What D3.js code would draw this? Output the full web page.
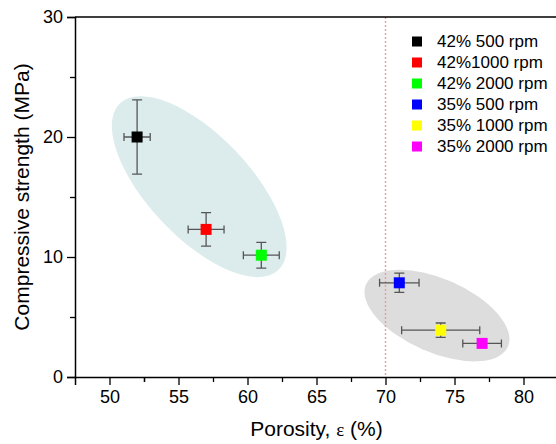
<!DOCTYPE html>
<html>
<head>
<meta charset="utf-8">
<script src="https://cdn.jsdelivr.net/npm/d3@7"></script>
<style>
  html, body { margin: 0; padding: 0; background: #fff; }
  svg { display: block; }
</style>
</head>
<body>
<div id="chart"></div>
<script>
// Compressive strength vs porosity, scatter with error bars

const labels = ['42% 500 rpm', '42%1000 rpm', '42% 2000 rpm', '35% 500 rpm', '35% 1000 rpm', '35% 2000 rpm'];
const colors = ['#000000', '#ff0000', '#00ff00', '#0000ff', '#ffff00', '#ff00ff'];
const porosity = [52.0, 57.0, 61.0, 71.0, 74.0, 77.0];
const porosityErr = [0.95, 1.3, 1.3, 1.43, 2.83, 1.4];
const strength = [20.0, 12.3, 10.15, 7.85, 3.9, 2.8];
const strengthErr = [3.1, 1.4, 1.07, 0.8, 0.6, 0.3];

const xTicks = [50, 55, 60, 65, 70, 75, 80];
const yTicks = [0, 10, 20, 30];
const thresholdX = 70;

// shaded groups: centre in data units
const groupCentres = [[56.5, 15.86], [73.73, 5.12]];

const W = 556, H = 444;
const margin = { left: 75, top: 17 };
const plotRight = 558, plotBottom = 377;

const svg = d3.select('#chart').append('svg')
  .attr('width', W)
  .attr('height', H)
  .attr('viewBox', [0, 0, W, H]);

const x = d3.scaleLinear().domain([47.5, 82.5]).range([margin.left, plotRight]);
const y = d3.scaleLinear().domain([0, 30]).range([plotBottom, margin.top]);

const font = 'Liberation Sans, Arial, sans-serif';

// group ellipses
const ellipseStyle = [
  { rx: 115, ry: 51, angle: 46.5, fill: '#dcecec' },
  { rx: 77.5, ry: 36.8, angle: 23.6, fill: '#dddddd' }
];
svg.append('g').selectAll('ellipse')
  .data(groupCentres)
  .enter().append('ellipse')
  .attr('transform', (d, i) => `translate(${x(d[0])},${y(d[1])}) rotate(${ellipseStyle[i].angle})`)
  .attr('rx', (d, i) => ellipseStyle[i].rx)
  .attr('ry', (d, i) => ellipseStyle[i].ry)
  .attr('fill', (d, i) => ellipseStyle[i].fill);

// dashed threshold
svg.append('line')
  .attr('x1', x(thresholdX)).attr('x2', x(thresholdX))
  .attr('y1', y(30)).attr('y2', y(0))
  .attr('stroke', '#f29a9a')
  .attr('stroke-width', 1.4)
  .attr('stroke-dasharray', '2,2');

// axes
const xAxis = svg.append('g')
  .attr('transform', `translate(0,${plotBottom})`)
  .call(d3.axisBottom(x).tickValues(xTicks).tickSize(8).tickPadding(5).tickFormat(d3.format('d')));
const xMinor = svg.append('g')
  .attr('transform', `translate(0,${plotBottom})`)
  .call(d3.axisBottom(x).tickValues(xTicks.map(t => t + 2.5).concat([47.5 + 5])).tickSize(5).tickFormat(''));
const yAxis = svg.append('g')
  .attr('transform', `translate(${margin.left},0)`)
  .call(d3.axisLeft(y).tickValues(yTicks).tickSize(8).tickPadding(4));
const yMinor = svg.append('g')
  .attr('transform', `translate(${margin.left},0)`)
  .call(d3.axisLeft(y).tickValues([5, 15, 25]).tickSize(5).tickFormat(''));

[xAxis, xMinor, yAxis, yMinor].forEach(g => {
  g.select('.domain').attr('stroke', '#000').attr('stroke-width', 1.5);
  g.selectAll('.tick line').attr('stroke', '#000').attr('stroke-width', 1.3);
  g.selectAll('.tick text')
    .attr('font-family', font)
    .attr('font-size', 18)
    .attr('fill', '#000');
});
xMinor.select('.domain').remove();
yMinor.select('.domain').remove();

// top & right frame
svg.append('path')
  .attr('d', `M${margin.left},${margin.top}H${plotRight}V${plotBottom}`)
  .attr('fill', 'none')
  .attr('stroke', '#000')
  .attr('stroke-width', 1.5);

// error bars
const errColor = '#555';
const capV = 5, capH = 4;
const bars = svg.append('g').attr('stroke', errColor).attr('stroke-width', 1.3);
porosity.forEach((px, i) => {
  const cx = x(px), cy = y(strength[i]);
  const y0 = y(strength[i] - strengthErr[i]), y1 = y(strength[i] + strengthErr[i]);
  const x0 = x(px - porosityErr[i]), x1 = x(px + porosityErr[i]);
  bars.append('path')
    .attr('fill', 'none')
    .attr('d', `M${cx},${y0}V${y1}M${cx - capV},${y0}H${cx + capV}M${cx - capV},${y1}H${cx + capV}` +
      `M${x0},${cy}H${x1}M${x0},${cy - capH}V${cy + capH}M${x1},${cy - capH}V${cy + capH}`);
});

// markers
const ms = 11;
svg.append('g').selectAll('rect')
  .data(porosity)
  .enter().append('rect')
  .attr('x', d => x(d) - ms / 2)
  .attr('y', (d, i) => y(strength[i]) - ms / 2)
  .attr('width', ms)
  .attr('height', ms)
  .attr('fill', (d, i) => colors[i]);

// legend
const legend = svg.append('g').attr('transform', 'translate(412,41.5)');
labels.forEach((lab, i) => {
  const row = legend.append('g').attr('transform', `translate(0,${i * 21})`);
  row.append('rect')
    .attr('x', 0).attr('y', -5)
    .attr('width', 10).attr('height', 10)
    .attr('fill', colors[i]);
  row.append('text')
    .attr('x', 25).attr('y', 0)
    .attr('dy', '0.35em')
    .attr('font-family', font)
    .attr('font-size', 17)
    .attr('fill', '#000')
    .text(lab);
});

// axis titles
const xt = svg.append('text')
  .attr('x', (margin.left + plotRight) / 2)
  .attr('y', 436)
  .attr('text-anchor', 'middle')
  .attr('font-family', font)
  .attr('font-size', 21)
  .attr('fill', '#000');
xt.append('tspan').text('Porosity, ');
xt.append('tspan').attr('font-family', 'Liberation Serif, serif').attr('font-size', 19).text('ε');
xt.append('tspan').text(' (%)');

svg.append('text')
  .attr('transform', `translate(29,${(margin.top + plotBottom) / 2}) rotate(-90)`)
  .attr('text-anchor', 'middle')
  .attr('font-family', font)
  .attr('font-size', 21)
  .attr('fill', '#000')
  .text('Compressive strength (MPa)');
</script>
</body>
</html>
